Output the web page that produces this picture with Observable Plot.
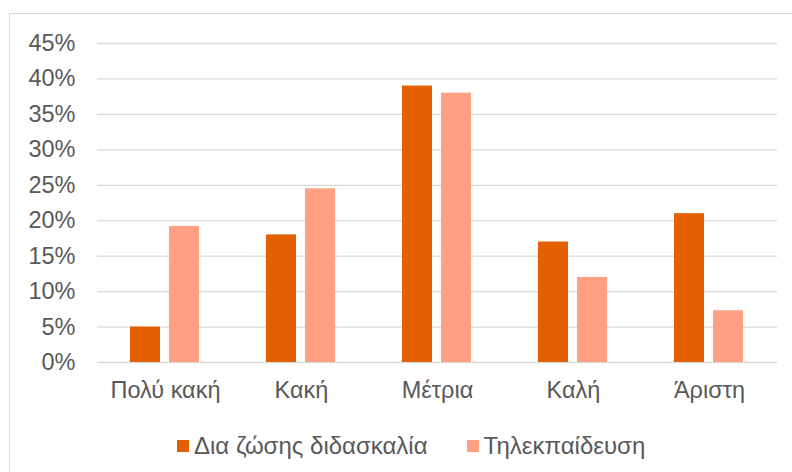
<!DOCTYPE html>
<html>
<head>
<meta charset="utf-8">
<script src="https://cdn.jsdelivr.net/npm/d3@7"></script>
<script src="https://cdn.jsdelivr.net/npm/@observablehq/plot@0.6"></script>
<style>
  html, body { margin: 0; padding: 0; background: #fff; }
  #wrap { position: relative; width: 792px; height: 472px; overflow: hidden; font-family: "Liberation Sans", Arial, sans-serif; color: #595959; }
  #frame { position: absolute; left: 9px; top: 13px; width: 820px; height: 520px; border: 1.5px solid #d9d9d9; box-sizing: border-box; pointer-events: none; }
  #chart svg { display: block; }
  #legend { position: relative; height: 52px; display: flex; align-items: center; padding-left: 177px; font-size: 24px; box-sizing: border-box; }
  .item { display: flex; align-items: center; }
  .sw { width: 12px; height: 12px; margin-right: 5px; }
</style>
</head>
<body>
<div id="wrap">
  <div id="frame"></div>
  <div id="chart"></div>
  <div id="legend"></div>
</div>
<script>
// Ratings and the share of answers for each teaching mode
const categories = ["Πολύ κακή", "Κακή", "Μέτρια", "Καλή", "Άριστη"];
const seriesNames = ["Δια ζώσης διδασκαλία", "Τηλεκπαίδευση"];
const inPerson = [0.05, 0.18, 0.39, 0.17, 0.21];
const remote = [0.192, 0.245, 0.38, 0.12, 0.073];
const yTicks = [0, 0.05, 0.10, 0.15, 0.20, 0.25, 0.30, 0.35, 0.40, 0.45];
const colors = ["#E36000", "#FF9F84"];

const rows = categories.flatMap((c, i) => [
  {cat: c, series: seriesNames[0], value: inPerson[i]},
  {cat: c, series: seriesNames[1], value: remote[i]}
]);

const chart = Plot.plot({
  width: 792,
  height: 420,
  marginLeft: 96,
  marginRight: 15,
  marginTop: 43,
  marginBottom: 58,
  style: {fontSize: "23.5px", fontFamily: "'Liberation Sans', Arial, sans-serif", color: "#595959", background: "transparent"},
  fx: {domain: categories, padding: 0, label: null, tickSize: 0, tickPadding: 19},
  x: {domain: seriesNames, axis: null, paddingInner: 0.222, paddingOuter: 0.848},
  y: {domain: [0, 0.45], ticks: yTicks, tickFormat: d => Math.round(d * 100) + "%", tickSize: 0, tickPadding: 22, label: null},
  color: {domain: seriesNames, range: colors},
  marks: [
    Plot.ruleY(yTicks, {stroke: "#d9d9d9", strokeWidth: 1.3}),
    Plot.barY(rows, {fx: "cat", x: "series", y: "value", fill: "series"})
  ]
});
document.getElementById("chart").appendChild(chart);

const legend = document.getElementById("legend");
seriesNames.forEach((name, i) => {
  const item = document.createElement("div");
  item.className = "item";
  if (i > 0) item.style.marginLeft = "39px";
  const sw = document.createElement("div");
  sw.className = "sw";
  sw.style.background = colors[i];
  const label = document.createElement("span");
  label.textContent = name;
  item.appendChild(sw);
  item.appendChild(label);
  legend.appendChild(item);
});
</script>
</body>
</html>
